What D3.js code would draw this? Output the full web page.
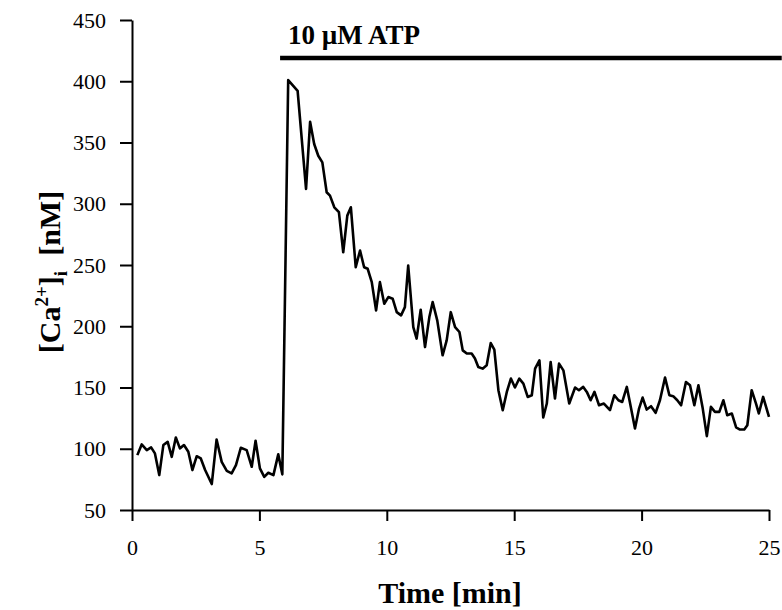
<!DOCTYPE html>
<html>
<head>
<meta charset="utf-8">
<script src="https://cdn.jsdelivr.net/npm/d3@7"></script>
<style>
  body { margin: 0; background: #fff; }
  svg { display: block; }
  text { font-family: "Liberation Serif", "Times New Roman", serif; fill: #000; }
</style>
</head>
<body>
<svg id="chart" width="782" height="610"></svg>
<script>
// Time in minutes
const timeMin = [0.21,0.38,0.58,0.75,0.90,1.07,1.23,1.40,1.56,1.72,1.88,2.04,2.21,2.37,2.54,2.70,2.87,3.13,3.32,3.52,3.72,3.91,4.08,4.27,4.50,4.70,4.85,5.02,5.19,5.35,5.55,5.74,5.90,
  6.13,6.50,6.83,6.99,7.15,7.31,7.47,7.64,7.77,7.94,8.12,8.29,8.45,8.59,8.78,8.95,9.11,9.25,9.41,9.58,9.73,9.90,10.06,10.23,10.39,10.56,10.71,10.84,11.04,11.17,11.33,11.50,11.67,11.80,11.98,12.19,12.35,12.51,12.68,12.85,12.98,13.14,13.33,13.46,13.59,13.76,13.92,14.08,14.22,14.38,14.55,14.71,14.87,15.03,15.20,15.36,15.53,15.69,15.82,15.99,16.14,16.28,16.43,16.60,16.76,16.93,17.16,17.39,17.54,17.71,17.85,18.00,18.15,18.33,18.52,18.76,18.93,19.09,19.24,19.42,19.54,19.74,19.90,20.04,20.20,20.37,20.55,20.72,20.92,21.09,21.24,21.40,21.55,21.74,21.90,22.07,22.23,22.40,22.56,22.72,22.88,23.05,23.21,23.36,23.54,23.71,23.86,24.03,24.15,24.32,24.49,24.60,24.77,25.00];
// [Ca2+]i in nM
const caNM = [94.8,103.5,98.9,101.1,96.2,78.5,103,105.6,93.4,109.2,100.3,103,97.5,82.6,93.9,92.1,82.6,71.2,107.6,89.3,82,79.9,86.7,100.8,98.9,85.3,106.5,84,77.1,80.4,78.5,95.4,79.1,
  400.9,392.2,312.1,366.9,348.8,339.2,333.8,309.4,306.6,297.1,293.1,260.4,290.3,297.1,248.2,261.8,248.2,246.9,236,212.9,236,218.4,223.8,222.5,211.5,208.9,215.6,249.6,199.3,189.9,213.5,183,207.5,219.7,204.8,176.3,188.5,211.5,199.3,195.3,180.3,177.7,177.7,173.6,166.7,165.4,168.1,186.3,180.9,147.8,131.5,146.4,157.3,150,157.3,153.2,142.3,143.7,165.4,172.2,125.5,136.9,170.8,141,169.5,164,136.9,150,147.8,150.5,146.4,139.6,146.4,135.5,136.9,131.5,143.7,139.6,138.2,150.5,138,116.5,132.8,141.8,132,134.7,129.3,139.6,158.1,143.7,142.9,139.6,135.5,154.5,151.8,135.5,151.8,132.8,110.3,134.2,130.1,130.1,139.6,127.4,128.8,117.4,115.7,115.7,119.2,147.8,136.9,128.8,142.3,126];

const xTicks = [0, 5, 10, 15, 20, 25];
const yTicks = [50, 100, 150, 200, 250, 300, 350, 400, 450];
const atpStart = 5.89;
const atpEnd = 25.5;
const atpLabel = "10 \u00B5M ATP";

const svg = d3.select("#chart");
const margin = {left: 132, right: 13, top: 20, bottom: 100};
const W = 782, H = 610;

const x = d3.scaleLinear().domain([0, 25]).range([margin.left, W - margin.right]);
const y = d3.scaleLinear().domain([50, 450]).range([H - margin.bottom, margin.top]);

// axes
const xAxis = svg.append("g")
  .attr("transform", `translate(0,${y(50)})`)
  .call(d3.axisBottom(x).tickValues(xTicks).tickSize(11).tickSizeOuter(0).tickPadding(18));
const yAxis = svg.append("g")
  .attr("transform", `translate(${x(0)},0)`)
  .call(d3.axisLeft(y).tickValues(yTicks).tickSize(12).tickSizeOuter(0).tickPadding(14));

[xAxis, yAxis].forEach(g => {
  g.select(".domain").attr("stroke", "#000").attr("stroke-width", 2);
  g.selectAll(".tick line").attr("stroke", "#000").attr("stroke-width", 2);
  g.selectAll(".tick text").attr("font-family", '"Liberation Serif", serif').attr("font-size", 22).attr("fill", "#000");
});

// data line
const line = d3.line().x((d, i) => x(timeMin[i])).y(d => y(d));
svg.append("path")
  .datum(caNM)
  .attr("d", line)
  .attr("fill", "none")
  .attr("stroke", "#000")
  .attr("stroke-width", 2.6)
  .attr("stroke-linejoin", "round");

// ATP bar
svg.append("line")
  .attr("x1", x(atpStart) - 2).attr("x2", x(atpEnd))
  .attr("y1", 58).attr("y2", 58)
  .attr("stroke", "#000").attr("stroke-width", 4.5);
svg.append("text")
  .attr("x", x(atpStart) + 6).attr("y", 44)
  .attr("font-size", 27).attr("font-weight", "bold")
  .text(atpLabel);

// x title
svg.append("text")
  .attr("x", 450).attr("y", 603)
  .attr("text-anchor", "middle")
  .attr("font-size", 30).attr("font-weight", "bold")
  .text("Time [min]");

// y title
const yt = svg.append("text")
  .attr("transform", `translate(60,272) rotate(-90)`)
  .attr("text-anchor", "middle")
  .attr("font-size", 30).attr("font-weight", "bold");
yt.append("tspan").text("[Ca");
yt.append("tspan").attr("font-size", 19).attr("dy", -12).text("2+");
yt.append("tspan").attr("dy", 12).text("]");
yt.append("tspan").attr("font-size", 19).attr("dy", 7).text("i");
yt.append("tspan").attr("dy", -7).text("\u00A0\u00A0[nM]");
</script>
</body>
</html>
